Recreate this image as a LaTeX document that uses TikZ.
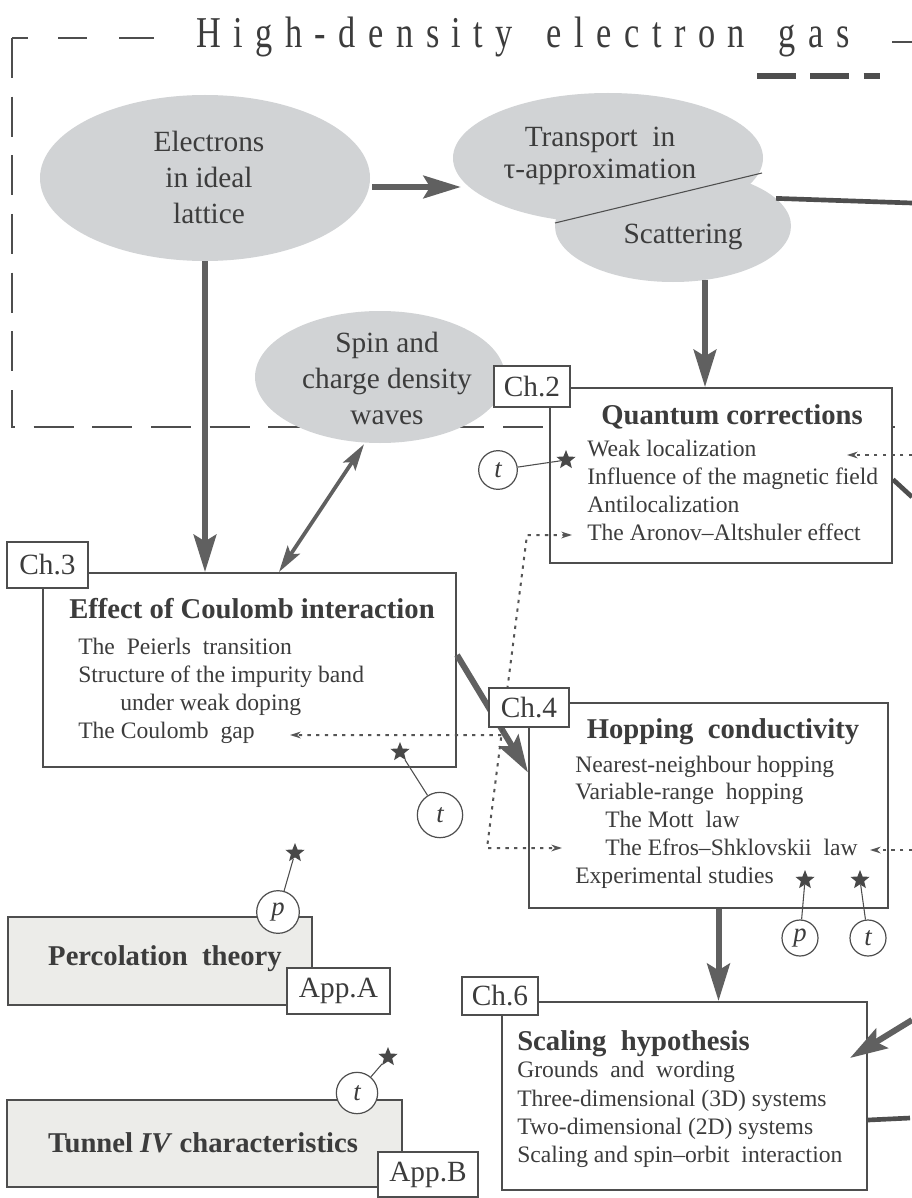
\documentclass[tikz,border=0pt]{standalone}
\usepackage{fontspec}
\setmainfont{Liberation Serif}
\newfontfamily\hdtitlefont[FakeStretch=0.78]{Liberation Serif}
\usetikzlibrary{shapes.geometric,arrows.meta,calc}
\definecolor{ellgray}{RGB}{209,211,213}
\definecolor{linegray}{RGB}{78,78,78}
\definecolor{arrgray}{RGB}{96,96,96}
\definecolor{txtgray}{RGB}{60,60,60}
\definecolor{appfill}{RGB}{236,236,233}
\definecolor{stargray}{RGB}{72,72,72}
\definecolor{dotgray}{RGB}{85,85,85}
\newcommand\bodyf{\fontsize{17.7}{20}\selectfont}
\newcommand\titf{\fontsize{21.5}{24}\selectfont\bfseries}
\newcommand\ellf{\fontsize{22}{27}\selectfont}
\newcommand\labf{\fontsize{22}{26}\selectfont}
\newcommand\bigtitf{\hdtitlefont\fontsize{33}{36}\selectfont}
\tikzset{
 ell/.style={ellipse, fill=ellgray, draw=none, inner sep=0pt},
 etxt/.style={inner sep=0pt, align=center, font=\ellf, text=txtgray},
 mbox/.style={rectangle, draw=linegray, line width=1.5pt, fill=white, inner sep=0pt},
 abox/.style={mbox, fill=appfill},
 lab/.style={rectangle, draw=linegray, line width=1.3pt, fill=white, inner sep=0pt, font=\labf, text=txtgray},
 itm/.style={anchor=base west, inner sep=0pt, font=\bodyf, text=txtgray},
 ttl/.style={anchor=base, inner sep=0pt, font=\titf, text=txtgray},
 circ/.style={circle, draw=linegray, line width=0.9pt, fill=white, inner sep=0pt, font=\fontsize{20}{22}\selectfont\itshape, text=txtgray},
 starn/.style={star, star points=5, star point ratio=2.3, fill=stargray, draw=none, inner sep=0pt, minimum size=15pt},
 bigarrow/.style={draw=arrgray, line width=4pt, -{Stealth[length=28pt,width=17pt,inset=5pt]}},
 dblarrow/.style={draw=arrgray, line width=2.8pt, {Stealth[length=20pt,width=11pt,inset=4pt]}-{Stealth[length=20pt,width=11pt,inset=4pt]}},
 thkline/.style={draw=linegray, line width=3.5pt},
 dotl/.style={draw=dotgray, line width=1.5pt, dash pattern=on 2.5pt off 4pt},
 dtip/.style={-{Stealth[length=8pt,width=5pt]}},
 pinline/.style={draw=linegray, line width=0.8pt},
 hdframe/.style={draw=linegray, line width=2.2pt, dash pattern=on 30pt off 14pt},
}
\begin{document}
\begin{tikzpicture}[x=0.75pt,y=-0.75pt]
\fill[white] (0,0) rectangle (912,1198);
\useasboundingbox (0,0) rectangle (912,1198);

% dashed frame of the high-density region
\draw[hdframe, dash pattern=on 12pt off 22.5pt on 22pt off 24pt on 26pt off 30pt] (12,38) -- (154,38);
\draw[hdframe] (12,38) -- (12,427) -- (912,427);
\draw[draw=linegray, line width=2.2pt] (892,42) -- (912,42);
\draw[draw=linegray, line width=3.8pt, dash pattern=on 29pt off 11pt] (757,76) -- (880,76);
\node[anchor=base, inner sep=0pt, font=\bigtitf, text=txtgray] (title) at (523,48)
 {\makebox[490pt][s]{H\hfill i\hfill g\hfill h\hfill -\hfill d\hfill e\hfill n\hfill s\hfill i\hfill t\hfill y\hspace{16pt}\hfill e\hfill l\hfill e\hfill c\hfill t\hfill r\hfill o\hfill n\hspace{16pt}\hfill g\hfill a\hfill s}};

% ellipses
\node[ell, minimum width=177pt, minimum height=84pt] (scat) at (673,226) {};
\node[ell, minimum width=232.5pt, minimum height=97.5pt] (trans) at (608,158) {};
\draw[draw=linegray, line width=0.8pt] (555,223) -- (762,173);
\node[ell, minimum width=247.5pt, minimum height=124.5pt] (elec) at (205,178) {};
\node[ell, minimum width=187.5pt, minimum height=99pt] (spin) at (380,377) {};

% boxes
\node[mbox, minimum width=256.5pt, minimum height=131.25pt] (qbox) at (721,475.5) {};
\node[mbox, minimum width=309.75pt, minimum height=145.5pt] (cbox) at (249.5,670) {};
\node[mbox, minimum width=269.25pt, minimum height=153.75pt] (hbox) at (708.5,805.5) {};
\node[mbox, minimum width=273.75pt, minimum height=141pt] (sbox) at (684.5,1096) {};
\node[abox, minimum width=228pt, minimum height=66pt] (pbox) at (160,961) {};
\node[abox, minimum width=296.25pt, minimum height=65.25pt] (tbox) at (204.5,1143.5) {};

% thick arrows
\draw[bigarrow] ($(elec.east)+(2,9)$) -- ($(trans.west)+(8,29)$);
\draw[bigarrow] (elec.south) -- (elec.south |- cbox.north);
\draw[dblarrow] ($(spin.south)+(-16,1)$) -- ($(cbox.north west)+(237,0)$);
\draw[bigarrow] ($(scat.south)+(32,-2)$) -- ($(qbox.north)+(-16,0)$);
\draw[bigarrow, line width=4.5pt] ($(cbox.east)+(0,-15)$) -- ($(hbox.west)+(0,-33)$);
\draw[bigarrow, line width=4.5pt] ($(hbox.south)+(10,0)$) -- ($(sbox.north)+(34,0)$);

% lines leaving the page
\coordinate (offA) at (912,203);
\coordinate (offB) at (912,497);
\coordinate (offC) at (912,1020);
\coordinate (sin) at (850,1058);
\coordinate (offD) at (910,1118);
\draw[thkline] (scat.15) -- (offA);
\draw[thkline] ($(qbox.east)+(0,4)$) -- (offB);
\draw[bigarrow, line width=4.5pt] (offC) -- (sin);
\draw[thkline] ($(sbox.east)+(0,24)$) -- (offD);

% dotted connectors
\coordinate (dA1) at (912,455);
\coordinate (dA2) at (847,455);
\coordinate (aa) at (572,535);
\coordinate (b1) at (527,535);
\coordinate (b2) at (487,848);
\coordinate (es) at (562,848);
\coordinate (cg) at (290,735);
\coordinate (dB1) at (912,850);
\coordinate (dB2) at (870,850);
\draw[dotl, dtip] (dA1) -- (dA2);
\draw[dotl, {Stealth[length=8pt,width=5pt]}-{Stealth[length=8pt,width=5pt]}] (aa) -- (b1) -- (b2) -- (es);
\draw[dotl, dtip] ($(b1)!0.639!(b2)$) -- (cg);
\draw[dotl, dtip] (dB1) -- (dB2);

% chapter labels
\node[lab, minimum width=57pt, minimum height=30.75pt] (l2) at (532,386.5) {Ch.2};
\node[lab, minimum width=60.75pt, minimum height=34.5pt] (l3) at (47.5,565) {Ch.3};
\node[lab, minimum width=60pt, minimum height=29.25pt] (l4) at (529,707.5) {Ch.4};
\node[lab, minimum width=57pt, minimum height=28.5pt] (l6) at (500,996) {Ch.6};
\node[lab, minimum width=77.25pt, minimum height=34.5pt] (la) at (338.5,991) {App.A};
\node[lab, minimum width=75pt, minimum height=33.75pt] (lb) at (428,1174.5) {App.B};

% ellipse texts
\node[etxt] (elect) at (209,177) {Electrons\\in ideal\\lattice};
\node[etxt] (spint) at (387,378) {Spin and\\charge density\\waves};
\node[etxt, font=\fontsize{22}{24}\selectfont] (transt) at (600,156) {Transport\ \ in\\τ-approximation};
\node[etxt] (scatt) at (683,237) {Scattering};

% Quantum corrections
\node[ttl] (qt) at (732,424) {Quantum corrections};
\node[itm] (q1) at (587,456) {Weak localization};
\node[itm] (q2) at (587,484) {Influence of the magnetic field};
\node[itm] (q3) at (587,512) {Antilocalization};
\node[itm] (q4) at (587,540) {The Aronov–Altshuler effect};

% Coulomb
\node[ttl] (ct) at (252,618) {Effect of Coulomb interaction};
\node[itm] (c1t) at (78,654) {The\ \ Peierls\ \ transition};
\node[itm] (c2t) at (78,682) {Structure of the impurity band};
\node[itm] (c3t) at (120,710) {under weak doping};
\node[itm] (c4t) at (78,738) {The Coulomb\ \ gap};

% Hopping
\node[ttl] (ht) at (723,738) {Hopping\ \ conductivity};
\node[itm] (h1) at (575,772) {Nearest-neighbour hopping};
\node[itm] (h2) at (575,799) {Variable-range\ \ hopping};
\node[itm] (h3) at (605,827) {The Mott\ \ law};
\node[itm] (h4) at (605,855) {The Efros–Shklovskii\ \ law};
\node[itm] (h5) at (575,883) {Experimental studies};

% Scaling
\node[ttl, anchor=base west] (st) at (517,1050) {Scaling\ \ hypothesis};
\node[itm] (s1t) at (517,1077) {Grounds\ \ and\ \ wording};
\node[itm] (s2t) at (517,1106) {Three-dimensional (3D) systems};
\node[itm] (s3t) at (517,1134) {Two-dimensional (2D) systems};
\node[itm] (s4t) at (517,1162) {Scaling and spin–orbit\ \ interaction};

% appendices
\node[ttl] (pt) at (165,965) {Percolation\ \ theory};
\node[ttl] (tt) at (203,1152) {Tunnel \textit{IV} characteristics};

% stars and reference circles
\node[starn] (s1) at (566,460) {};
\node[circ, minimum size=29pt] (c1) at (498,470) {t};
\draw[pinline] (c1) -- (s1);
\node[starn] (s2) at (400,752) {};
\node[circ, minimum size=34pt] (c2) at (440,815) {t};
\draw[pinline] (c2) -- (s2);
\node[starn] (s3) at (805,880) {};
\node[circ, minimum size=27pt] (c3) at (800,938) {p};
\draw[pinline] (c3) -- (s3);
\node[starn] (s4) at (860,880) {};
\node[circ, minimum size=27pt] (c4) at (868,938) {t};
\draw[pinline] (c4) -- (s4);
\node[starn] (s5) at (295,853) {};
\node[circ, minimum size=32pt] (c5) at (278,912) {p};
\draw[pinline] (c5) -- (s5);
\node[starn] (s6) at (388,1057) {};
\node[circ, minimum size=31pt] (c6) at (357,1093) {t};
\draw[pinline] (c6) -- (s6);
\end{tikzpicture}
\end{document}
